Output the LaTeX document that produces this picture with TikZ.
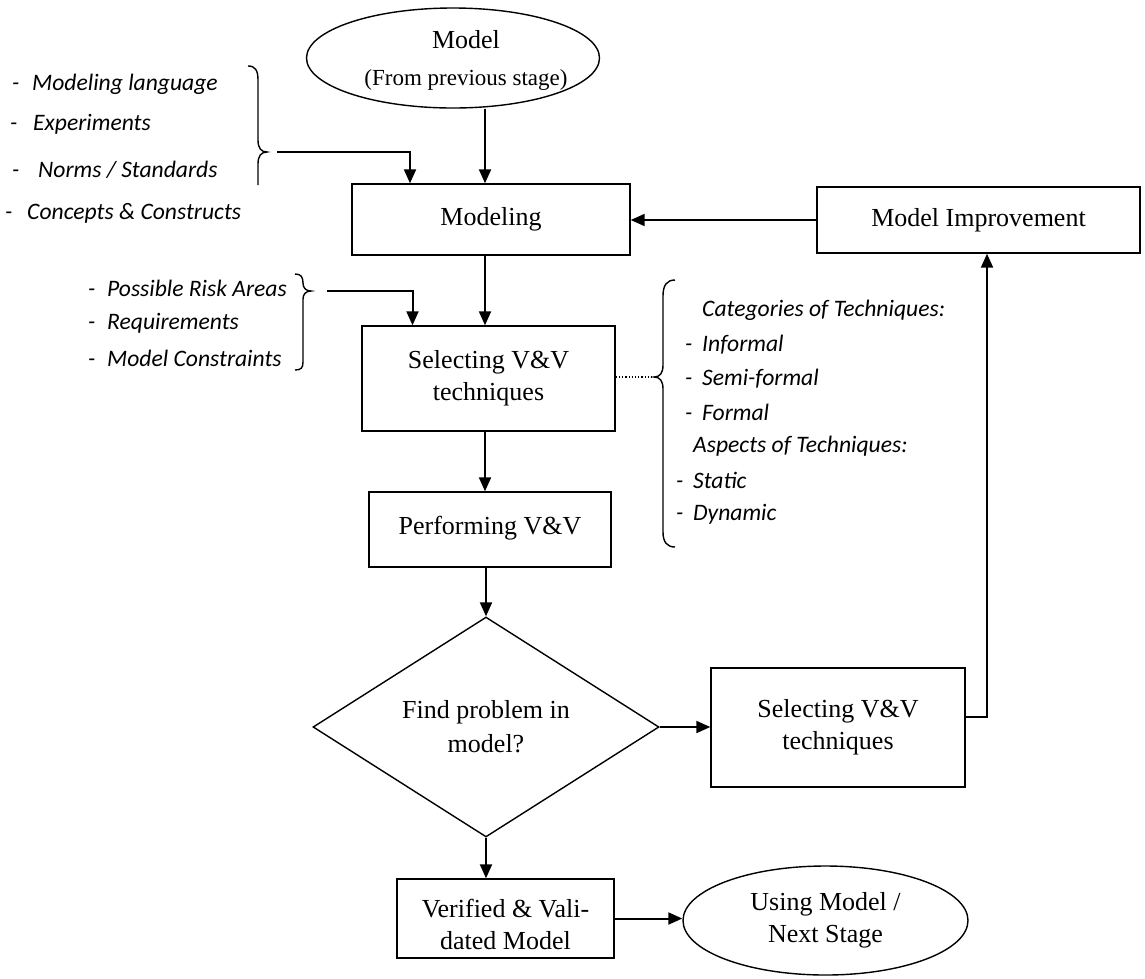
\documentclass[tikz,border=0pt]{standalone}
\usepackage{fontspec}
\setmainfont{Liberation Serif}
\newfontfamily\listfont{Carlito}
\usetikzlibrary{shapes.geometric,arrows.meta}
\begin{document}
\begin{tikzpicture}[x=1pt,y=-1pt,
  txt/.style={align=center, inner sep=0pt, font=\fontsize{26}{32}\selectfont},
  box/.style={draw, line width=1.4pt, rectangle, inner sep=0pt, align=center, font=\fontsize{26}{32}\selectfont},
  oval/.style={draw, line width=1.4pt, ellipse, inner sep=0pt, align=center, font=\fontsize{26}{32}\selectfont},
  arr/.style={-{Triangle[length=14pt,width=12pt]}, line width=2pt},
  lst/.style={anchor=west, inner sep=0pt, font=\listfont\itshape\fontsize{23.6}{28}\selectfont},
  brace/.style={line width=1.4pt},
  dots/.style={dotted, line width=1.2pt}
]
\useasboundingbox (0,0) rectangle (1145,978);
\coordinate (col) at (485,0);
\coordinate (ret) at (987,0);

% nodes
\node[oval, minimum width=293pt, minimum height=100pt,
  label={[txt, xshift=13pt, yshift=-2pt]center:Model\\[5pt]{\fontsize{23}{27}\selectfont (From previous stage)}}] (model) at (453,58) {};
\node[box, minimum width=278pt, minimum height=71pt] (modeling) at (491,219.5) {\raisebox{5pt}{Modeling}};
\node[box, minimum width=323pt, minimum height=66pt] (improve) at (978.5,220) {Model Improvement};
\node[box, minimum width=253pt, minimum height=105pt] (sel1) at (488.5,378.5) {Selecting V\&V\\techniques};
\node[box, minimum width=242pt, minimum height=75pt] (perf) at (490,529.5) {\raisebox{9pt}{Performing V\&V}};
\node[draw, line width=1.4pt, diamond, minimum width=346pt, minimum height=198pt, inner sep=0pt, align=center,
  font=\fontsize{26}{34}\selectfont] (dia) at (486,727) {Find problem in\\model?};
\node[box, minimum width=254pt, minimum height=119pt] (sel2) at (838,727.5) {Selecting V\&V\\techniques};
\node[box, minimum width=217pt, minimum height=79pt,
  label={[txt, yshift=-6pt]center:Verified \& Vali-\\dated Model}] (verified) at (505.5,918.5) {};
\node[oval, minimum width=285pt, minimum height=109pt] (using) at (825.5,920.5) {Using Model /\\Next Stage};

% left list 1
\node[lst] (l1a) at (12,84) {\makebox[20pt][l]{-}Modeling language};
\node[lst] (l1b) at (10,124) {\makebox[23pt][l]{-}Experiments};
\node[lst] (l1c) at (12,170) {\makebox[26pt][l]{-}Norms / Standards};
\node[lst] (l1d) at (5,213) {\makebox[22pt][l]{-}Concepts \& Constructs};
% left list 2
\node[lst] (l2a) at (88,288) {\makebox[19pt][l]{-}Possible Risk Areas};
\node[lst] (l2b) at (88,323) {\makebox[19pt][l]{-}Requirements};
\node[lst] (l2c) at (88,358) {\makebox[19pt][l]{-}Model Constraints};
% right list
\node[lst] (r1) at (702,310) {Categories of Techniques:};
\node[lst] (r2) at (685,345) {\makebox[17pt][l]{-}Informal};
\node[lst] (r3) at (685,379) {\makebox[17pt][l]{-}Semi-formal};
\node[lst] (r4) at (685,412) {\makebox[17pt][l]{-}Formal};
\node[lst] (r5) at (693,446) {Aspects of Techniques:};
\node[lst] (r6) at (676,480) {\makebox[17pt][l]{-}Static};
\node[lst] (r7) at (676,514) {\makebox[17pt][l]{-}Dynamic};

% braces
\draw[brace] (248,66) .. controls (255,66) and (258,70) .. (258,80) -- (258,140)
  .. controls (258,148) and (261,152) .. (267,152) .. controls (261,152) and (258,156) .. (258,164) -- (258,185);
\draw[brace] (295,274) .. controls (301,274) and (303,277) .. (303,283)
  .. controls (303,288) and (306,291) .. (311,291) .. controls (306,291) and (303,294) .. (303,299) -- (303,362)
  .. controls (303,368) and (301,370) .. (295,370);
\draw[brace] (675,280) .. controls (667,280) and (663,285) .. (663,296) -- (663,365)
  .. controls (663,373) and (660,377) .. (654,377) .. controls (660,377) and (663,381) .. (663,389) -- (663,532)
  .. controls (663,542) and (667,547) .. (675,547);

\coordinate (b1) at (277,152);
\coordinate (b2) at (327,291);
\coordinate (b3) at (654,377);

% connectors
\draw[arr] (model.south -| col) -- (modeling.north -| col);
\draw[arr] (b1) -| ([xshift=-81pt]modeling.north);
\draw[arr] (improve.west) -- (improve.west -| modeling.east);
\draw[arr] (modeling.south -| col) -- (sel1.north -| col);
\draw[arr] (b2) -| ([xshift=-76pt]sel1.north);
\draw[dots] (sel1.east |- b3) -- (b3);
\draw[arr] (sel1.south -| col) -- (perf.north -| col);
\draw[arr] (perf.south -| dia.north) -- (dia.north);
\draw[arr] (dia.east) -- (dia.east -| sel2.west);
\draw[arr] ([yshift=10.5pt]sel2.east) -| (improve.south -| ret);
\draw[arr] (dia.south) -- (dia.south |- verified.north);
\draw[arr] (verified.east) -- (verified.east -| using.west);
\end{tikzpicture}
\end{document}
